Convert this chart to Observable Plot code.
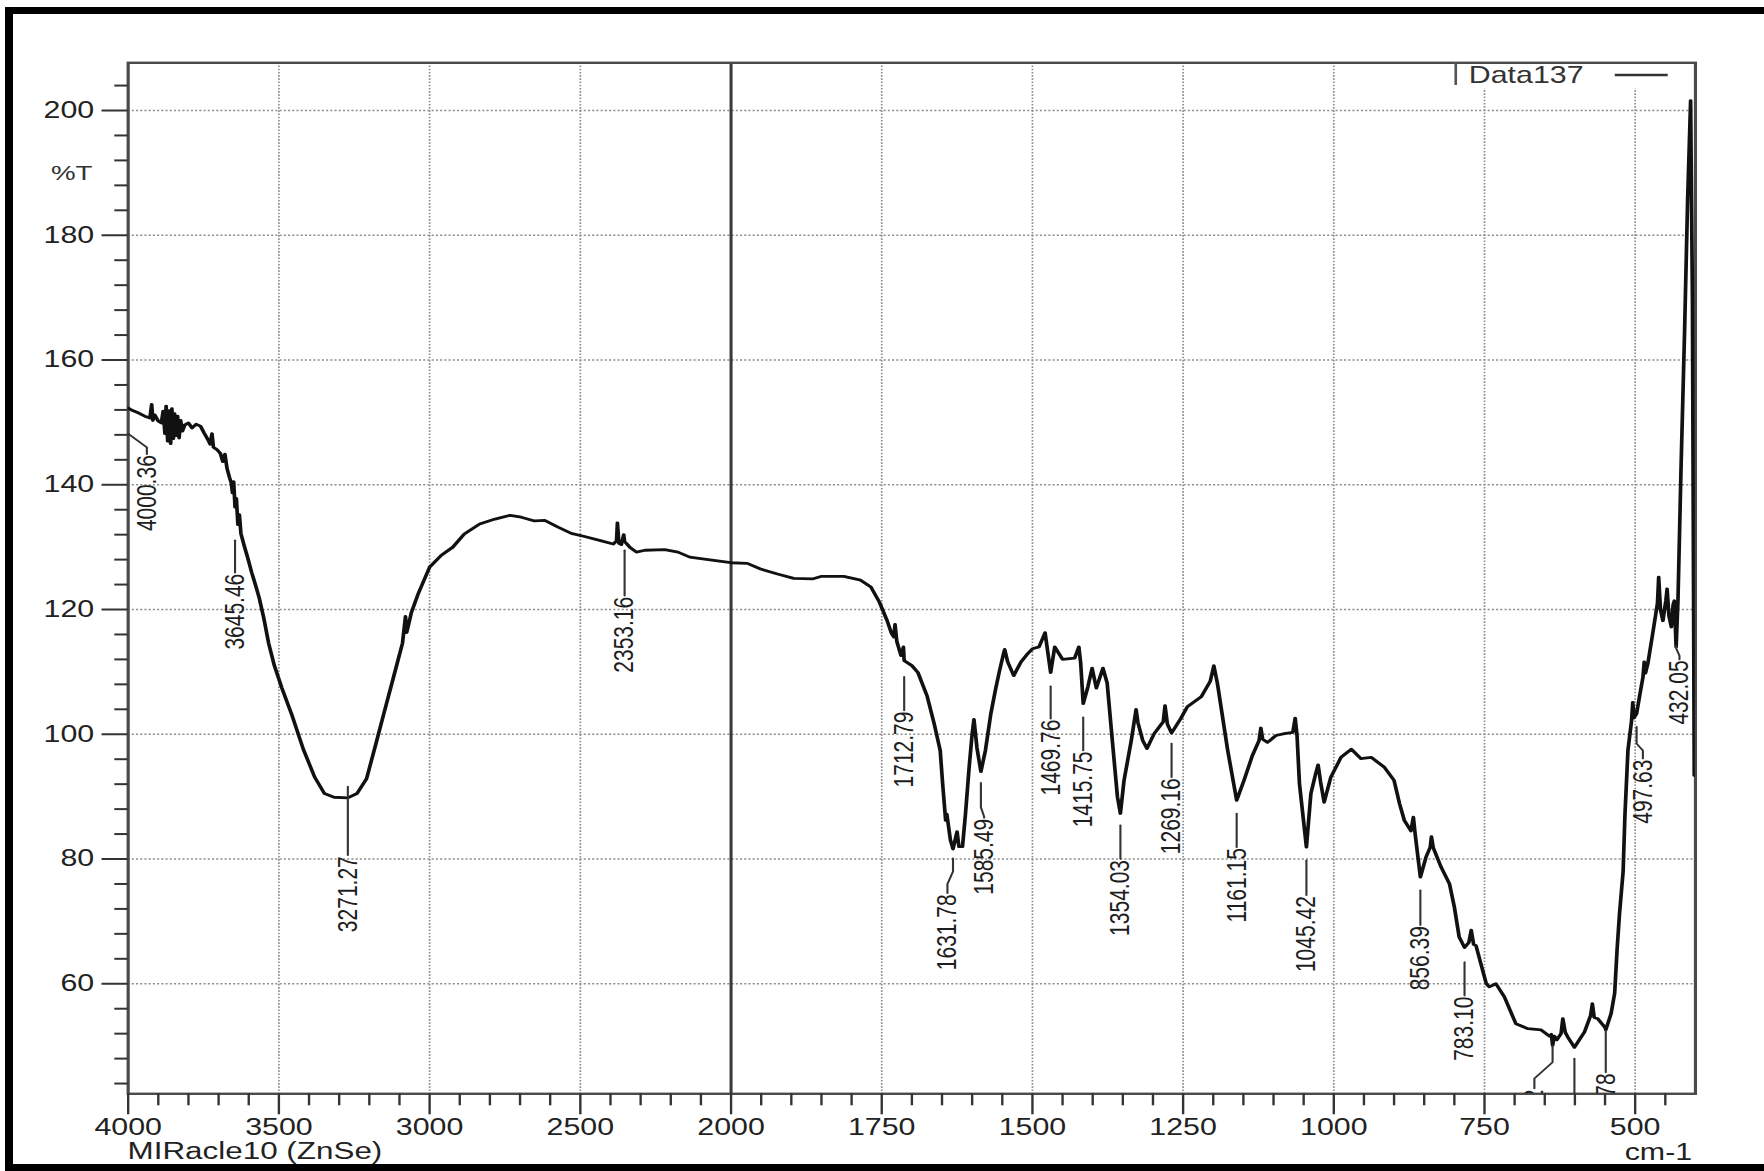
<!DOCTYPE html>
<html>
<head>
<meta charset="utf-8">
<script src="https://cdn.jsdelivr.net/npm/d3@7"></script>
<script src="https://cdn.jsdelivr.net/npm/@observablehq/plot@0.6"></script>
<style>
  html, body { margin: 0; padding: 0; background: #fff; width: 1764px; height: 1171px; overflow: hidden; }
  #chart { position: absolute; left: 0; top: 0; transform-origin: 0 0; }
  #border { position: absolute; left: 5px; top: 7px; width: 1800px; height: 1150px;
            border-left: 8px solid #000; border-top: 7px solid #000; border-bottom: 7px solid #000;
            box-sizing: content-box; pointer-events: none; }
</style>
</head>
<body>
<div id="chart"></div>
<div id="border"></div>
<script>
// FTIR transmittance spectrum, MIRacle10 (ZnSe) ATR — sample "Data137"

// Wavenumber (cm-1) and transmittance (%T) of the trace
const wavenumber = [
  4000, 3985, 3965, 3945, 3928, 3922, 3918, 3912, 3900, 3890, 3884, 3878, 3874, 3869, 3864, 3859,
  3855, 3850, 3846, 3841, 3836, 3831, 3826, 3820, 3812, 3800, 3788, 3775, 3760, 3748, 3735, 3728,
  3722, 3717, 3705, 3694, 3686, 3679, 3672, 3664, 3658, 3654, 3650, 3645.46, 3641, 3636, 3631, 3626,
  3615, 3604, 3590, 3578, 3565, 3550, 3534, 3515, 3490, 3457, 3419, 3381, 3349, 3317, 3271.27, 3241,
  3209, 3178, 3152, 3114, 3090, 3080, 3076, 3060, 3038, 3000, 2961, 2923, 2885, 2834, 2783, 2733,
  2696, 2652, 2618, 2574, 2530, 2486, 2430, 2391, 2380, 2377, 2372, 2364, 2356, 2353.16, 2336, 2314,
  2286, 2220, 2176, 2137, 2076, 2001, 1973, 1951, 1923, 1896, 1865, 1851, 1813, 1785, 1768, 1754,
  1741, 1734, 1730, 1728, 1725, 1718, 1714, 1712.79, 1700, 1690, 1675, 1663, 1653, 1649, 1644, 1642,
  1636, 1631.78, 1625, 1622, 1616, 1611, 1605, 1600, 1597, 1592, 1585.49, 1578, 1569, 1561, 1555, 1548,
  1546, 1541, 1531, 1519, 1508, 1500, 1489, 1479, 1475, 1469.76, 1463, 1450, 1430, 1423, 1420, 1415.75,
  1408, 1401, 1394, 1383, 1376, 1367, 1359, 1354.03, 1348, 1336, 1328, 1325, 1317, 1310, 1298, 1283,
  1280, 1276, 1269.16, 1254, 1243, 1220, 1205, 1199, 1193, 1176, 1161.15, 1149, 1135, 1124, 1121, 1118,
  1110, 1096, 1082, 1068, 1064, 1061, 1057, 1045.42, 1038, 1030, 1026, 1022, 1016, 1005, 988, 971,
  955, 938, 916, 900, 891, 883, 872, 868, 865, 856.39, 847, 840, 838, 835, 822, 808,
  800, 792, 783.10, 776, 772, 768, 764, 756, 747, 742, 731, 717, 698, 678, 656, 642,
  639, 637.02, 634, 630, 623, 620, 616, 612, 600.80, 584, 574, 571, 568, 562, 550, 548.78,
  540, 534, 530, 526, 520, 517, 512, 506, 504, 502, 497.63, 492, 487, 485, 483, 479,
  471, 463, 461, 458, 454, 449, 447, 444, 440, 437, 435, 432.05, 429, 424, 418, 413,
  408, 405, 402
];
const transmittance = [
  152.3, 151.9, 151.5, 151.0, 150.7, 152.9, 150.3, 151.2, 150.2, 149.9, 151.8, 148.2, 152.6, 147.0, 151.9, 146.6,
  152.2, 147.4, 151.4, 147.9, 151.0, 147.5, 150.3, 148.6, 149.6, 149.9, 149.1, 149.7, 149.4, 148.3, 147.2, 146.5,
  148.2, 146.0, 145.6, 145.0, 143.7, 144.9, 142.6, 141.2, 140.3, 138.7, 140.5, 136.4, 137.8, 133.6, 135.2, 132.2,
  130.2, 128.4, 125.9, 124.0, 121.8, 118.6, 114.6, 111.0, 107.4, 103.1, 97.6, 93.1, 90.5, 89.9, 89.8, 90.5,
  92.9, 98.5, 103.3, 110.2, 114.6, 118.9, 116.3, 119.6, 122.5, 126.8, 128.7, 130.0, 132.1, 133.7, 134.5, 135.1,
  134.8, 134.2, 134.3, 133.2, 132.2, 131.7, 131.0, 130.5, 131.0, 133.9, 130.6, 130.4, 132.0, 130.9, 130.0, 129.2,
  129.5, 129.6, 129.2, 128.4, 128.0, 127.5, 127.4, 126.5, 125.7, 125.0, 124.9, 125.3, 125.3, 124.7, 123.6, 121.2,
  118.2, 116.2, 115.6, 117.6, 114.9, 112.6, 114.0, 111.8, 111.0, 109.9, 106.2, 101.7, 97.4, 92.1, 86.2, 87.2,
  83.0, 81.6, 84.4, 82.0, 82.0, 87.3, 94.7, 100.1, 102.4, 97.8, 94.0, 97.4, 103.3, 107.3, 110.0, 112.9,
  113.6, 111.6, 109.4, 111.6, 112.9, 113.7, 114.0, 116.3, 113.5, 109.9, 114.0, 112.0, 112.2, 114.0, 111.5, 104.9,
  107.6, 110.6, 107.4, 110.6, 108.2, 98.5, 90.0, 87.3, 92.6, 99.0, 104.0, 101.9, 99.0, 97.7, 100.1, 102.0,
  104.6, 101.6, 100.2, 102.5, 104.4, 106.0, 108.5, 111.0, 108.1, 97.4, 89.4, 92.6, 96.6, 99.0, 101.0, 99.2,
  98.7, 99.8, 100.1, 100.3, 102.6, 99.8, 92.1, 81.9, 90.5, 93.7, 95.1, 92.4, 89.1, 93.1, 96.3, 97.6,
  96.1, 96.3, 94.7, 92.6, 88.9, 86.2, 84.5, 86.7, 84.0, 77.1, 80.3, 81.9, 83.6, 81.8, 78.7, 76.0,
  72.3, 67.5, 65.8, 66.6, 68.6, 66.3, 66.1, 63.2, 60.0, 59.5, 60.0, 57.9, 53.6, 52.8, 52.6, 51.6,
  51.9, 50.1, 51.6, 51.0, 52.0, 54.4, 52.2, 51.5, 49.8, 52.3, 54.9, 56.8, 54.6, 54.4, 53.0, 52.6,
  55.2, 58.5, 65.5, 71.2, 78.0, 87.0, 97.4, 102.2, 105.1, 102.6, 103.3, 106.5, 109.2, 111.6, 109.8, 111.3,
  116.1, 121.0, 125.2, 120.0, 118.2, 121.5, 123.3, 119.0, 117.2, 120.8, 121.4, 114.0, 121.4, 142.3, 164.7, 185.6,
  201.6, 169.5, 93.4
];

// Peak annotations: label text, peak wavenumber, wavenumber where the text sits,
// and the %T levels of the leader (tip, bend, elbow) and of the text's top end
const peakText  = ["4000.36", "3645.46", "3271.27", "2353.16", "1712.79", "1631.78", "1585.49", "1469.76",
                   "1415.75", "1354.03", "1269.16", "1161.15", "1045.42", "856.39", "783.10", "637.02",
                   "600.80", "548.78", "497.63", "432.05"];
const peakWn    = [4000.36, 3645.46, 3271.27, 2353.16, 1712.79, 1631.78, 1585.49, 1469.76,
                   1415.75, 1354.03, 1269.16, 1161.15, 1045.42, 856.39, 783.10, 637.02,
                   600.80, 548.78, 497.63, 432.05];
const labelWn   = [3938, 3645.46, 3271.27, 2353.16, 1712.79, 1641, 1580.2, 1469.76,
                   1415.75, 1354.03, 1269.16, 1161.15, 1045.42, 856.39, 783.10, 667.2,
                   600.80, 548.78, 487.2, 426.5];
const leaderTip = [148.2, 131.1, 91.6, 129.5, 109.2, 80.1, 92.2, 107.7, 102.7, 85.4, 98.5, 87.3, 79.8, 75.0, 63.5, 50.1, 48.0, 52.5, 101.2, 114.2];
const leaderBend= [148.2, 131.1, 91.6, 129.5, 109.2, 78.0, 88.3, 107.7, 102.7, 85.4, 98.5, 87.3, 79.8, 75.0, 63.5, 47.4, 48.0, 52.5, 98.5, 113.8];
const leaderElb = [146.0, 125.9, 80.6, 122.2, 103.8, 76.0, 86.8, 102.5, 97.4, 80.0, 93.1, 81.9, 74.2, 69.4, 58.1, 44.8, 41.0, 45.8, 97.4, 112.6];
const labelTop  = [144.9, 125.9, 80.6, 122.2, 103.8, 74.5, 86.6, 102.5, 97.4, 80.0, 93.1, 81.9, 74.2, 69.4, 58.1, 43.2, 41.0, 45.8, 96.1, 112.0];

// Axis ticks
const xMajor = [4000, 3500, 3000, 2500, 2000, 1750, 1500, 1250, 1000, 750, 500];
const xMinor = [...d3.range(3900, 2000, -100), ...d3.range(1950, 400, -50)].filter(v => !xMajor.includes(v));
const yMajor = [60, 80, 100, 120, 140, 160, 180, 200];
const yMinor = d3.range(44, 205, 4).filter(v => v % 20 !== 0);
const xGridFull = [3500, 3000, 2500, 1750, 1500, 1250, 1000];
const xGridShort = [750, 500];           // these stop below the legend

// Layout: the printout is stretched horizontally, so the plot is drawn narrow and scaled
const SX = 1.32;
const W = 1764 / SX;
const H = 1171;
const FRAME_L = 127.5 / SX, FRAME_R = 1694.8 / SX, BREAK_X = 730.4 / SX;
const FRAME_T = 62.3, FRAME_B = 1093.3;
const T_MIN = 42.36, T_MAX = 207.65;
const FONT = "'Liberation Sans', Arial, Helvetica, sans-serif";

const spectrum = wavenumber.map((w, i) => ({w, t: transmittance[i]}));
const peaks = peakText.map((text, i) => ({
  text, wn: peakWn[i], lw: labelWn[i],
  tip: leaderTip[i], bend: leaderBend[i], elbow: leaderElb[i], top: labelTop[i]
}));
const leaders = peaks.flatMap((p, i) => [
  {id: i, w: p.wn, t: p.tip},
  {id: i, w: p.wn, t: p.bend},
  {id: i, w: p.lw, t: p.elbow},
  {id: i, w: p.lw, t: p.top}
]);

const gridStyle = {stroke: "#8f8f8f", strokeWidth: 1.3, strokeDasharray: "1.6,1.6"};

const chart = Plot.plot({
  width: W,
  height: H,
  marginLeft: FRAME_L,
  marginRight: W - FRAME_R,
  marginTop: FRAME_T,
  marginBottom: H - FRAME_B,
  style: {fontFamily: FONT, background: "transparent", overflow: "visible"},
  // wavenumber axis changes scale at 2000 cm-1
  x: {type: "linear", domain: [4000, 2000, 400], range: [FRAME_L, BREAK_X, FRAME_R]},
  y: {domain: [T_MIN, T_MAX]},
  marks: [
    Plot.ruleY(yMajor, gridStyle),
    Plot.ruleX(xGridFull, gridStyle),
    Plot.ruleX(xGridShort, {...gridStyle, y1: T_MIN, y2: 203.5}),
    Plot.ruleX([2000], {stroke: "#3a3a3a", strokeWidth: 2.3}),
    Plot.frame({stroke: "#4a4a4a", strokeWidth: 2.4}),
    Plot.line(spectrum, {x: "w", y: "t", stroke: "#111", strokeWidth: 2.8,
                         strokeLinejoin: "round", strokeLinecap: "round", clip: true}),
    Plot.line(leaders, {x: "w", y: "t", z: "id", stroke: "#333", strokeWidth: 1.6, clip: true}),
    Plot.text(peaks, {x: "lw", y: "top", text: "text", rotate: -90, textAnchor: "end",
                      fontSize: 21, fill: "#1e1e1e", dy: 1, clip: true}),
    Plot.axisY({ticks: yMajor, tickSize: 19.7, tickPadding: 6, fontSize: 23, fill: "#222",
                stroke: "#333", strokeWidth: 2, tickFormat: "d", label: null}),
    Plot.axisY({ticks: yMinor, tickSize: 10, tickFormat: () => "", stroke: "#333", strokeWidth: 2, label: null}),
    Plot.axisY({ticks: [190], tickSize: 0, tickPadding: 27, fontSize: 21, fill: "#333",
                tickFormat: () => "%T", label: null}),
    Plot.axisX({ticks: xMajor, tickSize: 21, tickPadding: 4, fontSize: 23, fill: "#222",
                stroke: "#333", strokeWidth: 1.8, tickFormat: "d", label: null}),
    Plot.axisX({ticks: xMinor, tickSize: 12, tickFormat: () => "", stroke: "#333", strokeWidth: 1.8, label: null})
  ]
});

// Instrument caption, unit, and series legend
const svg = d3.select(chart);
svg.append("text")
  .attr("x", FRAME_L).attr("y", 1159)
  .attr("text-anchor", "start")
  .attr("font-family", FONT).attr("font-size", 23.8).attr("fill", "#222")
  .text("MIRacle10 (ZnSe)");
svg.append("text")
  .attr("x", FRAME_R - 2).attr("y", 1160)
  .attr("text-anchor", "end")
  .attr("font-family", FONT).attr("font-size", 23).attr("fill", "#222")
  .text("cm-1");
const legend = svg.append("g");
legend.append("line")
  .attr("x1", FRAME_R - 181.1).attr("x2", FRAME_R - 181.1)
  .attr("y1", FRAME_T).attr("y2", 85)
  .attr("stroke", "#555").attr("stroke-width", 2);
legend.append("text")
  .attr("x", FRAME_R - 171.2).attr("y", 82.7)
  .attr("text-anchor", "start")
  .attr("font-family", FONT).attr("font-size", 23).attr("fill", "#333")
  .text("Data137");
legend.append("line")
  .attr("x1", FRAME_R - 60.6).attr("x2", FRAME_R - 20.5)
  .attr("y1", 75).attr("y2", 75)
  .attr("stroke", "#333").attr("stroke-width", 2.4);

const holder = document.getElementById("chart");
holder.style.transform = `scaleX(${SX})`;
holder.appendChild(chart);
</script>
</body>
</html>
